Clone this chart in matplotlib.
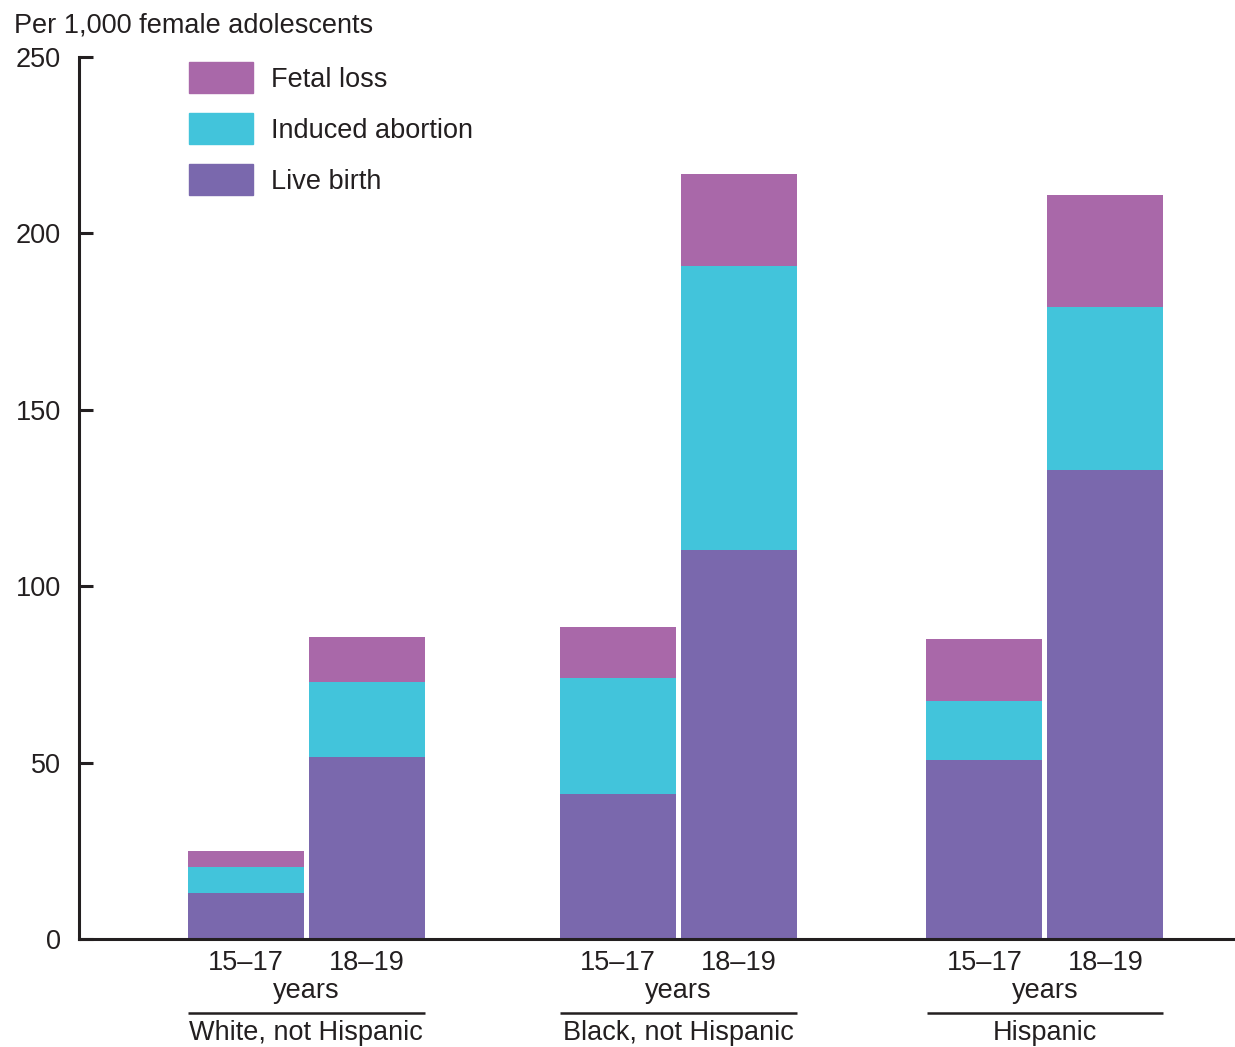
import matplotlib
matplotlib.use("Agg")
import matplotlib.pyplot as plt
from matplotlib.patches import Rectangle
from matplotlib.transforms import blended_transform_factory
import numpy as np

plt.rcParams['font.family'] = ['Liberation Sans', 'DejaVu Sans']

# data (per 1,000 female adolescents)
groups = ['White, not Hispanic', 'Black, not Hispanic', 'Hispanic']
ages = ['15–17', '18–19']
live_birth = [[13.0, 51.6], [41.1, 110.3], [50.7, 132.9]]
induced_abortion = [[7.4, 21.2], [32.9, 80.5], [16.8, 46.2]]
fetal_loss = [[4.5, 12.8], [14.4, 26.0], [17.5, 31.8]]

series_names = ['Fetal loss', 'Induced abortion', 'Live birth']
colors = {'Live birth': '#7a68ad', 'Induced abortion': '#42c4db', 'Fetal loss': '#a968a9'}
ink = '#231f20'
fs = 19.5

fig = plt.figure(figsize=(12.35, 10.47), dpi=100)
ax = fig.add_axes([79 / 1235, 1 - 939 / 1047, 1 - 79 / 1235, 882 / 1047])

group_centers = np.array([1.96, 5.17, 8.33])
width = 1.0
offsets = [-0.521, 0.521]

lb = np.array(live_birth)
ia = np.array(induced_abortion)
fl = np.array(fetal_loss)

trans = blended_transform_factory(ax.transData, ax.transAxes)
for j, off in enumerate(offsets):
    x = group_centers + off
    ax.bar(x, lb[:, j], width=width, color=colors['Live birth'])
    ax.bar(x, ia[:, j], bottom=lb[:, j], width=width, color=colors['Induced abortion'])
    ax.bar(x, fl[:, j], bottom=lb[:, j] + ia[:, j], width=width, color=colors['Fetal loss'])
    for xi in x:
        ax.text(xi, -0.027, ages[j], transform=trans, ha='center', va='center',
                fontsize=fs, color=ink)

for i, g in enumerate(groups):
    c = group_centers[i]
    ax.text(c, -0.059, 'years', transform=trans, ha='center', va='center',
            fontsize=fs, color=ink)
    ax.plot([c - 1.02, c + 1.02], [-0.084, -0.084], transform=trans, color=ink,
            lw=1.8, clip_on=False, solid_capstyle='butt')
    ax.text(c, -0.107, g, transform=trans, ha='center', va='center',
            fontsize=fs, color=ink)

ax.set_xlim(0, 9.97)
ax.set_ylim(0, 250)
ax.set_yticks([0, 50, 100, 150, 200, 250])
ax.set_xticks([])
ax.spines['top'].set_visible(False)
ax.spines['right'].set_visible(False)
for s in ['left', 'bottom']:
    ax.spines[s].set_linewidth(2.2)
    ax.spines[s].set_color(ink)
ax.tick_params(axis='y', direction='in', length=10, width=2.2, color=ink,
               pad=13, labelsize=fs, labelcolor=ink)

fig.text(14 / 1235, 1 - 25 / 1047, 'Per 1,000 female adolescents', fontsize=fs,
         color=ink, ha='left', va='center')

# legend
for k, name in enumerate(series_names):
    top = 62 + k * 51
    fig.add_artist(Rectangle((189 / 1235, 1 - (top + 31) / 1047), 64 / 1235, 31 / 1047,
                             transform=fig.transFigure, color=colors[name]))
    fig.text(271 / 1235, 1 - (top + 18) / 1047, name, fontsize=fs, color=ink,
             ha='left', va='center')

fig.savefig('out.png', dpi=100)
